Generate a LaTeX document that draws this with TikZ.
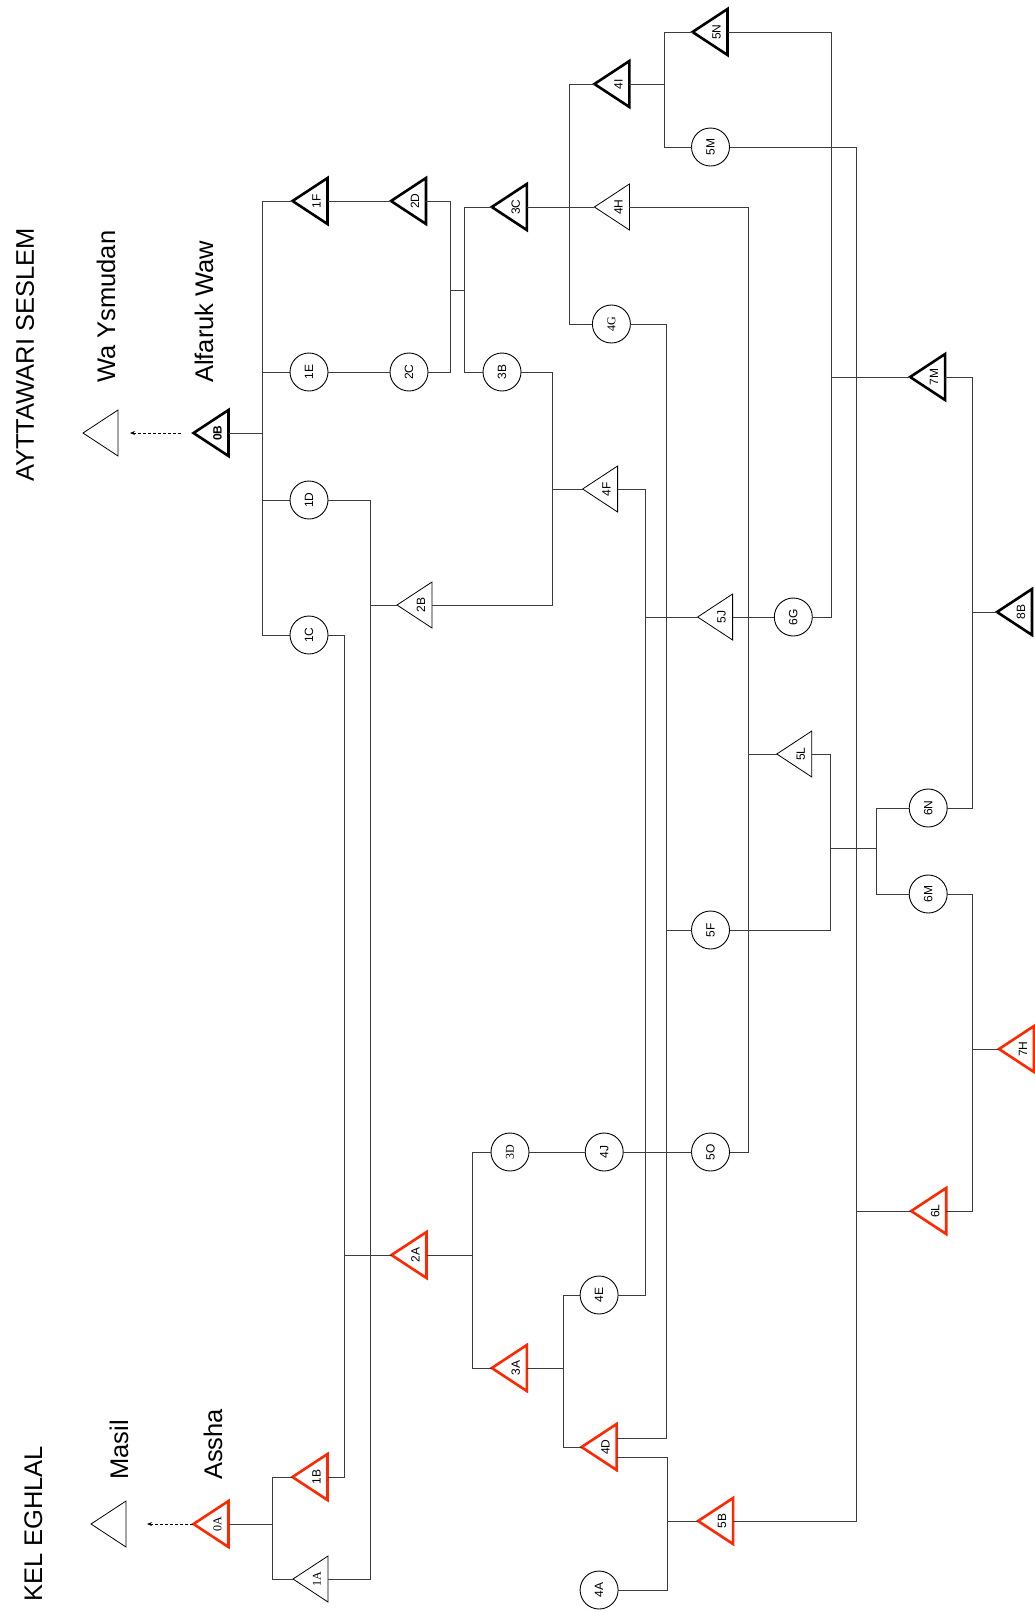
\documentclass[tikz,border=0pt]{standalone}
\usepackage{fontspec}
\setmainfont{Liberation Serif}
\setsansfont{Liberation Sans}
\usetikzlibrary{arrows.meta}
\definecolor{kred}{RGB}{255,40,0}
\definecolor{conn}{RGB}{60,60,60}
\tikzset{
 trisz/.style={rectangle, minimum width=35pt, minimum height=46pt, inner sep=0pt, outer sep=0pt},
 thintri/.style={draw=black, line width=0.8pt},
 thicktri/.style={draw=black, line width=2.6pt},
 redtri/.style={draw=kred, line width=2.6pt},
 person/.style={circle, draw=black, line width=0.9pt, minimum size=38pt, inner sep=0pt, outer sep=0pt, font=\sffamily\fontsize{12}{14}\selectfont},
 lbl/.style={inner sep=0pt, font=\sffamily\fontsize{12}{14}\selectfont},
 conline/.style={draw=conn, line width=1pt},
 bigtext/.style={rotate=90, anchor=base west, inner sep=0pt, font=\sffamily\fontsize{25.5}{30}\selectfont},
 legarrow/.style={draw=black, line width=0.8pt, dash pattern=on 3pt off 2pt, -{Stealth[length=5pt,width=4pt]}}
}
\newcommand\mytri[5]{%
  \node[trisz] (#1) at (#2,#3) {};
  \draw[#4] (#1.west) -- (#1.north east) -- (#1.south east) -- cycle;
  \node[lbl] (#1t) at ([xshift=-11pt]#1.east) {\rotatebox{90}{#5}};
}
\newcommand\mytrishape[4]{%
  \node[trisz] (#1) at (#2,#3) {};
  \draw[#4] (#1.west) -- (#1.north east) -- (#1.south east) -- cycle;
}
\newcommand\myperson[4]{\node[person] (#1) at (#2,#3) {\rotatebox{90}{#4}};}
\begin{document}
\begin{tikzpicture}[x=1pt,y=-1pt]
\useasboundingbox (0,0) rectangle (1034,1612);
% titles
\node[bigtext] (tAY) at (34,482) {AYTTAWARI SESLEM};
\node[bigtext] (tWY) at (115,383) {Wa Ysmudan};
\node[bigtext] (tAW) at (213,383) {Alfaruk Waw};
\node[bigtext] (tKE) at (42,1602) {KEL EGHLAL};
\node[bigtext] (tMA) at (128,1480) {Masil};
\node[bigtext] (tAS) at (222,1480) {Assha};
% triangles
\mytrishape{legB}{100.5}{433}{thintri}
\mytrishape{legA}{108.5}{1524}{thintri}
\mytri{n0B}{211}{433}{thicktri}{\textbf{0B}}
\mytri{n1F}{310}{201}{thicktri}{1F}
\mytri{n2D}{408.5}{201}{thicktri}{2D}
\mytri{n3C}{509.3}{207}{thicktri}{3C}
\mytri{n4H}{611.9}{207}{thintri}{4H}
\mytri{n4I}{611.9}{84}{thicktri}{4I}
\mytri{n5N}{710}{32}{thicktri}{5N}
\mytri{n7M}{927.6}{377}{thicktri}{7M}
\mytri{n2B}{414.5}{605}{thintri}{2B}
\mytri{n4F}{600.1}{489}{thintri}{4F}
\mytri{n5J}{715.1}{617}{thintri}{5J}
\mytri{n8B}{1014.5}{612}{thicktri}{8B}
\mytri{n5L}{794.3}{754}{thintri}{5L}
\mytri{n7H}{1016.5}{1049}{redtri}{7H}
\mytri{n6L}{928.7}{1211}{redtri}{6L}
\mytri{n2A}{409}{1255}{redtri}{2A}
\mytri{n3A}{509.3}{1368}{redtri}{3A}
\mytri{n4D}{599.1}{1447}{redtri}{4D}
\mytri{n5B}{715.6}{1521}{redtri}{5B}
\mytri{n0A}{211}{1524}{redtri}{{\rmfamily 0A}}
\mytri{n1B}{310}{1477}{redtri}{1B}
\mytri{n1A}{310.5}{1579}{thintri}{{\rmfamily 1A}}
% circles
\myperson{n1E}{309}{372}{1E}
\myperson{n2C}{409}{372}{2C}
\myperson{n3B}{502}{372}{3B}
\myperson{n1D}{309}{500}{1D}
\myperson{n1C}{309}{635}{1C}
\myperson{n4G}{611.4}{324}{{\rmfamily 4G}}
\myperson{n5M}{710.5}{147}{5M}
\myperson{n6G}{793.3}{617}{6G}
\myperson{n3D}{510}{1152}{{\rmfamily 3D}}
\myperson{n4J}{604.2}{1152}{4J}
\myperson{n5O}{710.5}{1152}{5O}
\myperson{n5F}{710.5}{930}{5F}
\myperson{n6N}{928.2}{808}{6N}
\myperson{n6M}{928.2}{894}{6M}
\myperson{n4E}{599.1}{1295}{4E}
\myperson{n4A}{599.1}{1590}{4A}
% legend arrows
\draw[legarrow, shorten <=13pt, shorten >=12pt] (n0B.west) -- (legB.east);
\draw[legarrow, shorten <=1pt, shorten >=21pt] (n0A.west) -- (legA.east);
% connectors
\coordinate (b0B) at (262,433);
\draw[conline] (n0B.east) -- (b0B);
\draw[conline] (n1F.west) -| (b0B);
\draw[conline] (n1C.west) -| (b0B);
\draw[conline] (n1E.west) -- (n1E.west -| b0B);
\draw[conline] (n1D.west) -- (n1D.west -| b0B);
\draw[conline] (n1F.east) -- (n2D.west);
\draw[conline] (n1E.east) -- (n2C.west);
\coordinate (m2) at (450,290);
\coordinate (b3) at (464,290);
\draw[conline] (n2D.east) -| (m2);
\draw[conline] (n2C.east) -| (m2);
\draw[conline] (m2) -- (b3);
\draw[conline] (n3C.west) -| (b3);
\draw[conline] (n3B.west) -| (b3);
\draw[conline] (n3C.east) -- (n4H.west);
\coordinate (b4) at (569.5,207);
\draw[conline] (n4I.west) -| (b4);
\draw[conline] (n4G.west) -| (b4);
\coordinate (b5) at (664.5,84);
\draw[conline] (n4I.east) -- (b5);
\draw[conline] (n5N.west) -| (b5);
\draw[conline] (n5M.west) -| (b5);
\coordinate (r6G) at (831.1,617);
\draw[conline] (n6G.east) -- (r6G) |- (n5N.east);
\draw[conline] (n7M.west) -- (n7M.west -| r6G);
\coordinate (r5B) at (856.6,1521);
\draw[conline] (n5B.east) -- (r5B) |- (n5M.east);
\draw[conline] (n6L.west) -- (n6L.west -| r5B);
\coordinate (r6N) at (972.1,808);
\draw[conline] (n6N.east) -- (r6N) |- (n7M.east);
\draw[conline] (n8B.west) -- (n8B.west -| r6N);
\coordinate (r6L) at (972.1,1211);
\draw[conline] (n6M.east) -| (r6L) -- (n6L.east);
\draw[conline] (n7H.west) -- (n7H.west -| r6L);
\coordinate (r5F) at (830.1,930);
\draw[conline] (n5L.east) -| (r5F) -- (n5F.east);
\coordinate (j5) at (830.1,848);
\coordinate (b6) at (876,848);
\draw[conline] (j5) -- (b6);
\draw[conline] (n6N.west) -| (b6);
\draw[conline] (n6M.west) -| (b6);
\coordinate (r5O) at (748.3,1152);
\draw[conline] (n4H.east) -| (r5O) -- (n5O.east);
\draw[conline] (n5L.west) -- (n5L.west -| r5O);
\coordinate (r4D) at (666.6,1438);
\draw[conline] (n4G.east) -| (r4D) -- (r4D -| n4D.east);
\draw[conline] (n5F.west) -- (n5F.west -| r4D);
\coordinate (r4E) at (645.1,1295);
\draw[conline] (n4F.east) -| (r4E) -- (n4E.east);
\draw[conline] (n5J.west) -- (n5J.west -| r4E);
\draw[conline] (n5J.east) -- (n6G.west);
\coordinate (r2B) at (552.1,605);
\draw[conline] (n3B.east) -| (r2B) -- (n2B.east);
\draw[conline] (n4F.west) -- (n4F.west -| r2B);
\coordinate (r1A) at (370,1579);
\draw[conline] (n1D.east) -| (r1A) -- (n1A.east);
\draw[conline] (n2B.west) -- (n2B.west -| r1A);
\coordinate (r1B) at (344,1477);
\draw[conline] (n1C.east) -| (r1B) -- (n1B.east);
\draw[conline] (n2A.west) -- (n2A.west -| r1B);
\coordinate (b0A) at (272,1524);
\draw[conline] (n0A.east) -- (b0A);
\draw[conline] (n1B.west) -| (b0A);
\draw[conline] (n1A.west) -| (b0A);
\coordinate (b2A) at (472,1255);
\draw[conline] (n2A.east) -- (b2A);
\draw[conline] (n3D.west) -| (b2A);
\draw[conline] (n3A.west) -| (b2A);
\draw[conline] (n3D.east) -- (n4J.west);
\draw[conline] (n4J.east) -- (n5O.west);
\coordinate (b3A) at (563.3,1368);
\draw[conline] (n3A.east) -- (b3A);
\draw[conline] (n4E.west) -| (b3A);
\draw[conline] (n4D.west) -| (b3A);
\coordinate (r4A) at (667.6,1457);
\draw[conline] (r4A -| n4D.east) -- (r4A) |- (n4A.east);
\draw[conline] (n5B.west) -- (n5B.west -| r4A);
\end{tikzpicture}
\end{document}
